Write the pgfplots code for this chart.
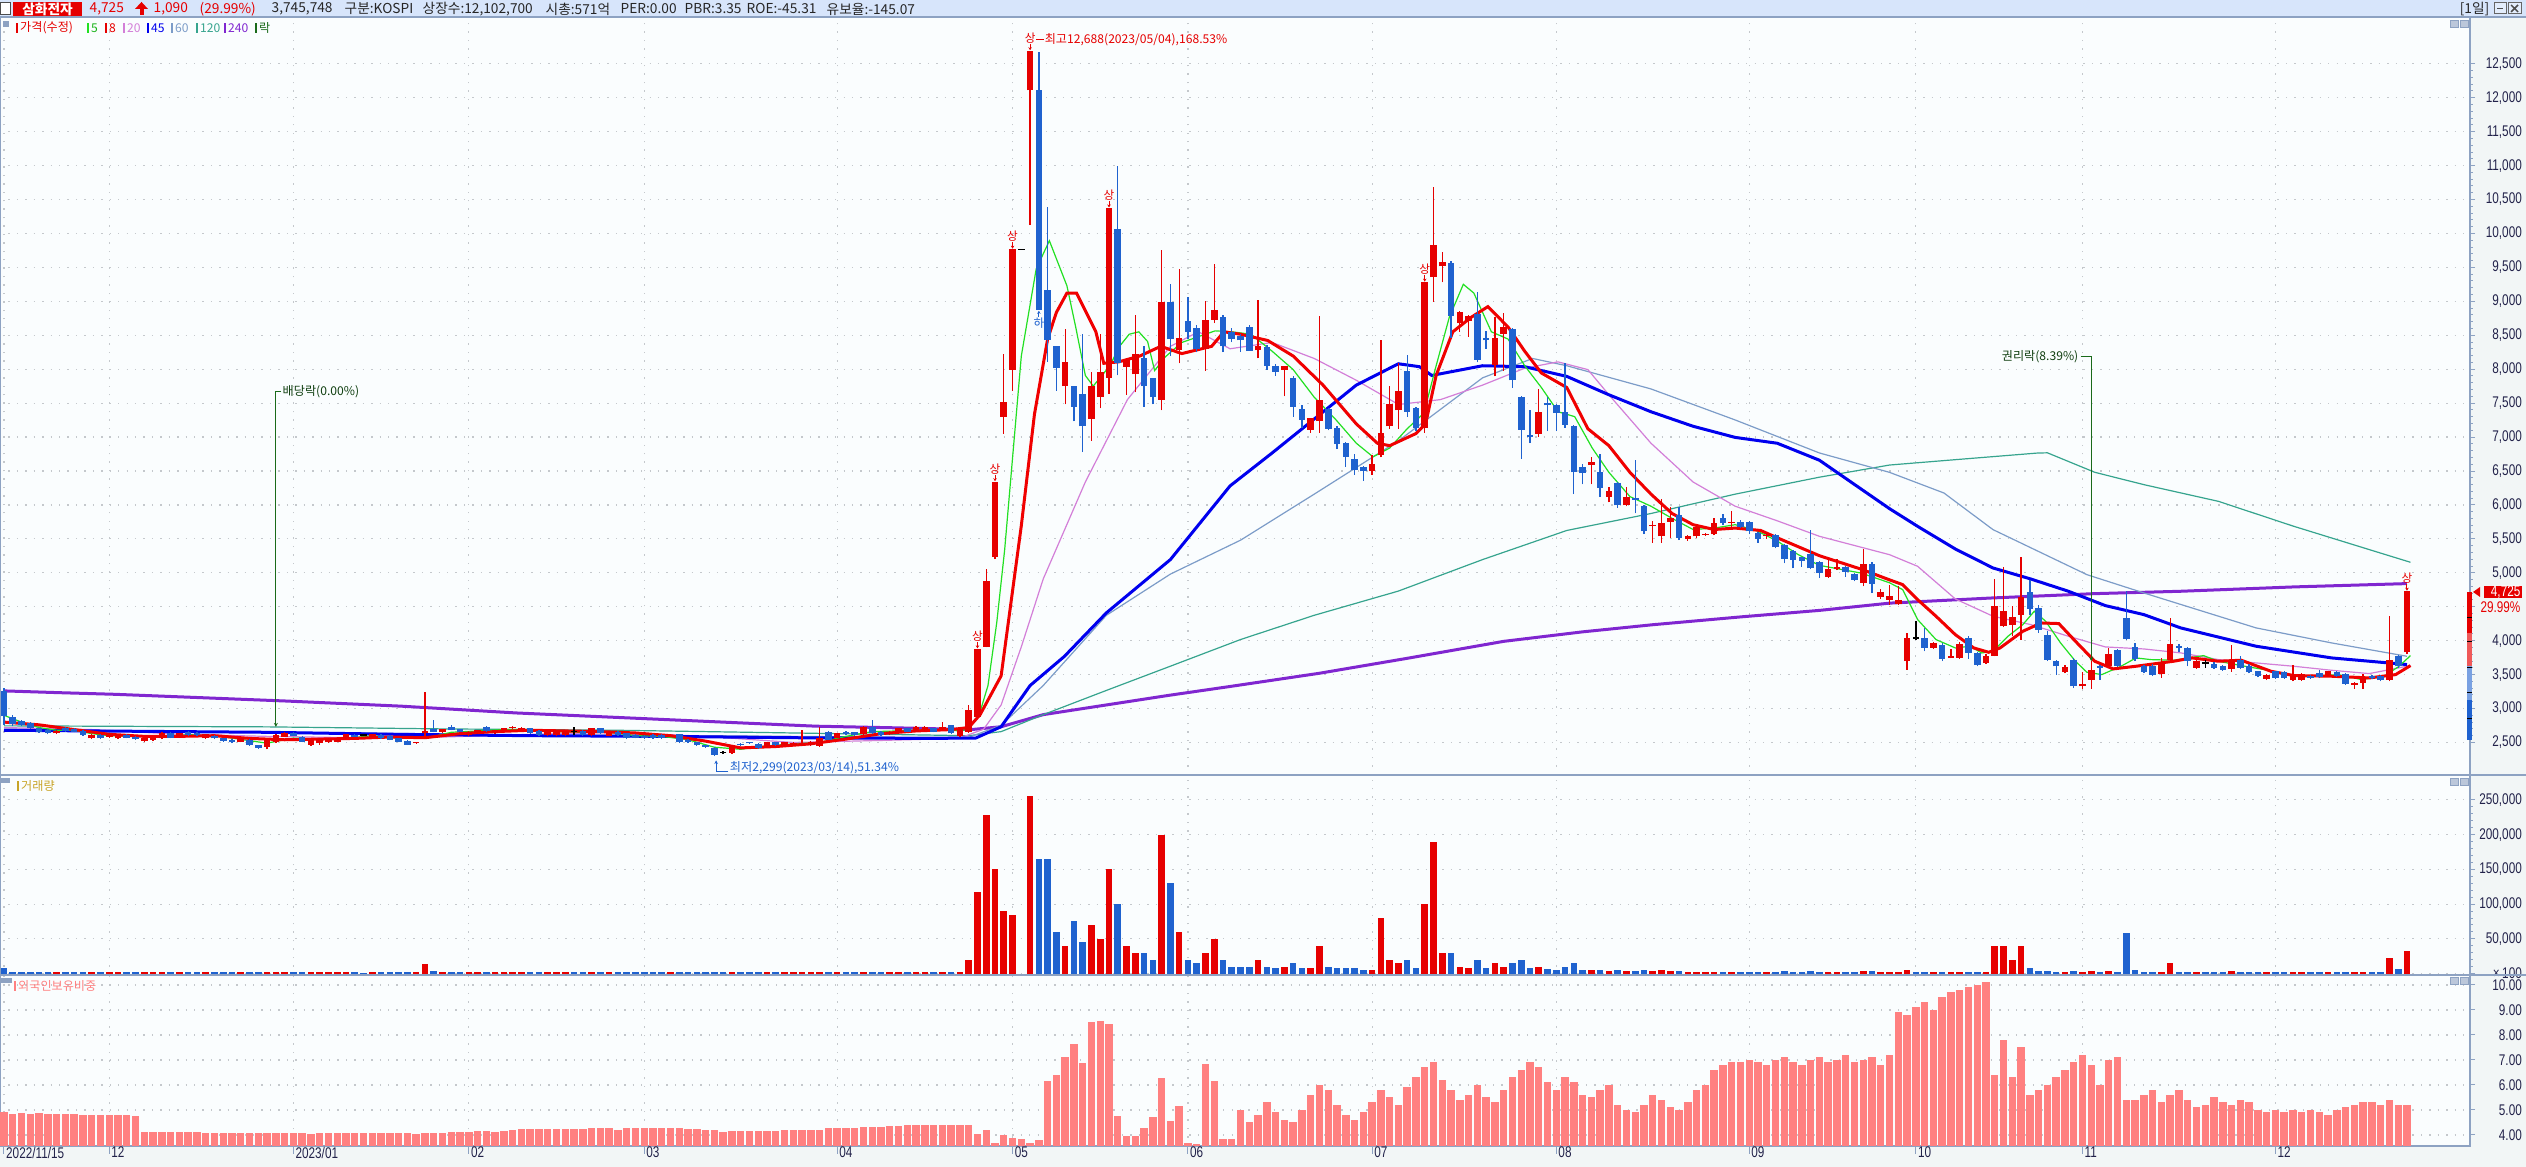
\documentclass[border=0pt]{standalone}
\usepackage{fontspec}
\usepackage{pgfplots}
\pgfplotsset{compat=1.18}
\usepackage{pgfplotstable}
\usetikzlibrary{arrows.meta}
\setmainfont{Liberation Sans}
\newfontfamily\kr{Noto Sans CJK KR}
\newfontfamily\axf[FakeStretch=0.76]{Liberation Sans}
\newcommand{\fs}[1]{\fontsize{#1}{#1}\selectfont}

\definecolor{hdrbg}{HTML}{D7E5FB}
\definecolor{border}{HTML}{8DA2C2}
\definecolor{plotbg}{HTML}{FAFDFE}
\definecolor{sidebg}{HTML}{F2F6F6}
\definecolor{candr}{HTML}{E60000}
\definecolor{candb}{HTML}{1F62CF}
\definecolor{mafive}{HTML}{22E022}
\definecolor{maeight}{HTML}{F00000}
\definecolor{matwenty}{HTML}{D37FD8}
\definecolor{mafortyfive}{HTML}{0000EE}
\definecolor{masixty}{HTML}{7C9CC8}
\definecolor{maonetwenty}{HTML}{36A48E}
\definecolor{matwoforty}{HTML}{8026D0}
\definecolor{frgn}{HTML}{FF8080}
\definecolor{axtxt}{HTML}{22224A}
\definecolor{gridc}{HTML}{C4C8CC}
\definecolor{dkgreen}{HTML}{1A6A1A}
\definecolor{gold}{HTML}{C8A428}

% ---------- candles: i open high low close volume ----------
\pgfplotstableread{
i o h l c v
6 2635 2690 2620 2670 2500
10 2560 2620 2550 2610 2500
12 2585 2640 2570 2635 2000
13 2560 2625 2550 2620 2000
16 2520 2570 2500 2560 2000
17 2535 2570 2520 2560 2000
18 2560 2650 2550 2645 3000
20 2585 2640 2570 2635 2000
23 2560 2630 2550 2620 2000
27 2510 2570 2500 2560 2000
30 2435 2540 2400 2535 3000
31 2500 2620 2490 2610 3000
32 2585 2650 2580 2645 2500
35 2470 2540 2450 2535 2000
36 2485 2560 2470 2550 2000
37 2500 2560 2490 2550 2000
38 2510 2570 2500 2560 2000
39 2560 2630 2550 2620 2000
42 2585 2625 2580 2620 2000
47 2485 2510 2480 2500 2000
48 2635 3250 2600 2670 14000
50 2650 2700 2640 2695 3000
53 2610 2670 2600 2660 2500
54 2635 2690 2630 2685 2500
56 2635 2690 2630 2685 2500
57 2685 2720 2680 2710 2500
58 2710 2740 2700 2735 2500
59 2695 2725 2690 2720 2500
62 2610 2690 2600 2685 2500
63 2610 2690 2600 2685 2500
64 2610 2675 2600 2670 2500
67 2610 2715 2600 2710 2500
69 2600 2665 2590 2660 2500
76 2585 2615 2580 2610 2000
83 2345 2460 2330 2447 2500
87 2450 2510 2440 2500 2000
89 2460 2510 2450 2500 2000
90 2470 2500 2460 2490 2000
91 2470 2680 2460 2490 3000
92 2460 2520 2450 2510 2000
93 2450 2735 2440 2560 3000
95 2570 2640 2560 2635 2000
98 2625 2740 2610 2732 2500
101 2625 2670 2610 2660 2000
102 2639 2720 2630 2710 2000
104 2660 2740 2650 2732 2000
105 2682 2740 2670 2732 2000
107 2696 2803 2690 2732 2500
109 2589 2710 2580 2697 3000
110 2660 3053 2640 2982 20000
111 2875 3875 2860 3875 118000
112 3910 5053 3900 4874 228000
113 5231 6338 5200 6338 150000
114 7302 8230 7052 7516 90000
115 7994 9765 7680 9765 84000
117 12107 12688 10122 12688 255000
121 7751 8587 7480 8108 40000
124 7266 7966 6945 7751 70000
125 7587 8515 7423 7966 50000
126 7873 10372 7640 10372 150000
128 8037 8137 7623 8137 40000
129 7923 8800 7658 8230 30000
132 7552 9750 7395 8994 200000
134 8280 9479 8087 8465 60000
137 8301 9000 7980 8730 30000
138 8730 9550 8680 8872 50000
143 8280 9015 8158 8337 20000
146 7994 8051 7600 8051 10000
149 7109 7280 7066 7280 8000
150 7230 8787 7066 7552 40000
156 6495 6730 6445 6609 5000
157 6730 8423 6700 7066 80000
158 7159 7751 7123 7494 20000
159 7394 8087 7123 7680 15000
162 7137 9279 7066 9279 100000
163 9358 10679 8994 9836 190000
164 9515 9729 9279 9586 30000
166 8680 8860 8551 8837 10000
167 8708 8800 8480 8780 8000
170 8065 8765 7894 8465 15000
171 8515 8822 7980 8622 10000
175 7052 7709 7000 7373 10000
181 6588 6700 6302 6637 5000
183 6123 6266 6037 6209 4000
185 5995 6266 5980 6123 4000
188 5690 5766 5445 5702 4000
189 5538 6087 5445 5730 5000
190 5752 5966 5516 5802 4000
192 5495 5550 5470 5538 3000
193 5538 5700 5516 5681 3000
194 5560 5580 5540 5570 2000
195 5566 5802 5552 5730 3000
197 5740 5909 5660 5750 3000
201 5540 5580 5500 5552 2000
208 4945 5210 4930 5052 3000
209 5052 5210 5040 5088 2000
212 4853 5352 4800 5124 4000
214 4650 4760 4620 4720 3000
215 4605 4826 4531 4654 3000
216 4546 4802 4531 4595 2000
217 3697 4114 3574 4040 5000
220 3893 3980 3880 3967 2000
222 3746 3878 3740 3780 2000
223 3746 3980 3730 3957 3000
226 3672 3800 3660 3780 3000
227 3780 4910 3770 4517 40000
228 4212 5086 4200 4433 40000
229 4237 4517 4065 4350 20000
230 4384 5233 4016 4644 40000
235 3535 3640 3520 3613 2000
237 3328 3535 3290 3368 3000
238 3427 3697 3290 3574 4000
240 3633 3893 3620 3810 4000
246 3515 3746 3451 3682 3000
247 3721 4335 3700 3957 15000
250 3599 3710 3590 3697 2000
254 3584 3943 3540 3712 4000
258 3437 3510 3420 3500 2000
261 3417 3648 3400 3486 3000
262 3427 3530 3410 3515 2000
265 3500 3560 3480 3549 2000
268 3353 3390 3290 3378 2000
269 3378 3510 3290 3451 3000
272 3427 4370 3400 3721 22000
274 3829 4725 3800 4725 33000
}\redtab

\pgfplotstableread{
i o h l c v
0 3260 3300 2760 2885 8000
1 2870 2900 2740 2770 3000
2 2810 2830 2740 2760 2500
3 2785 2800 2700 2720 2500
4 2710 2720 2640 2660 2500
5 2685 2700 2620 2635 2000
7 2720 2730 2660 2670 2000
8 2700 2710 2650 2660 2000
9 2670 2680 2600 2610 2000
11 2610 2620 2550 2560 2000
14 2610 2620 2560 2570 2000
15 2585 2600 2540 2550 2000
19 2635 2650 2560 2570 2000
21 2660 2670 2600 2610 2000
22 2635 2650 2600 2610 2000
24 2600 2610 2550 2560 2000
25 2560 2570 2510 2520 2000
26 2535 2550 2490 2500 2000
28 2535 2550 2450 2460 2000
29 2460 2470 2410 2420 2000
33 2635 2650 2590 2600 2000
34 2585 2590 2500 2510 2000
40 2610 2620 2580 2585 2000
43 2610 2620 2550 2560 2000
44 2600 2610 2530 2535 2000
45 2560 2570 2500 2510 2000
46 2520 2530 2460 2470 2000
49 2700 2835 2650 2660 4000
51 2735 2760 2680 2685 3000
52 2695 2700 2650 2660 2500
55 2735 2740 2660 2670 2500
60 2710 2720 2630 2635 2500
61 2670 2680 2600 2610 2500
66 2670 2680 2600 2610 2500
68 2710 2720 2630 2635 2500
70 2660 2670 2600 2610 2000
71 2635 2645 2550 2560 2000
72 2610 2620 2560 2570 2000
73 2600 2610 2550 2560 2000
74 2610 2620 2550 2560 2000
75 2610 2620 2550 2560 2000
77 2620 2630 2490 2500 2500
78 2535 2545 2490 2500 2000
79 2500 2510 2450 2460 2000
80 2460 2470 2425 2435 2000
81 2420 2430 2299 2320 3000
84 2480 2490 2450 2460 2000
85 2500 2510 2480 2485 2000
86 2480 2490 2410 2420 2000
88 2500 2510 2450 2460 2000
94 2660 2670 2530 2535 2500
96 2660 2670 2610 2620 2000
97 2650 2660 2600 2610 2000
99 2732 2835 2630 2639 3000
100 2660 2670 2600 2610 2000
103 2710 2720 2650 2660 2000
106 2710 2720 2650 2660 2000
108 2753 2760 2630 2639 2500
118 12107 12678 8872 8872 165000
119 9172 10386 8108 8430 165000
120 8337 8337 7680 8015 60000
122 7751 7751 7230 7444 75000
123 7637 8515 6780 7159 45000
127 10072 10993 7908 8087 100000
130 8158 8337 7444 7751 30000
131 7873 7873 7480 7587 20000
133 8994 9251 8194 8444 130000
135 8708 9065 8444 8551 20000
136 8608 8650 8250 8301 15000
139 8765 8800 8250 8337 20000
140 8551 8600 8400 8444 10000
141 8494 8520 8250 8423 10000
142 8622 8650 8300 8265 10000
144 8322 8350 7990 8051 10000
145 8051 8080 7900 7966 8000
147 7873 7900 7300 7444 15000
148 7409 7466 7140 7252 8000
151 7409 7430 7100 7123 10000
152 7137 7160 6823 6895 8000
153 6909 6930 6566 6709 8000
154 6680 6750 6445 6516 8000
155 6566 6580 6359 6495 5000
160 7980 8208 7302 7373 20000
161 7423 7450 7087 7137 8000
165 9565 9600 8465 8780 30000
168 8815 9136 8100 8137 20000
169 8458 8565 8300 8423 8000
172 8587 8600 7730 7837 15000
173 7587 7600 6680 7109 20000
174 7037 7394 6909 6995 8000
176 7501 7587 7087 7466 6000
177 7466 7480 7087 7352 5000
178 7373 8087 7140 7180 10000
179 7159 7180 6159 6480 15000
180 6566 6600 6302 6466 5000
182 6480 6752 6123 6252 5000
184 6323 6340 5960 5995 5000
186 6100 6659 5874 6075 4000
187 5981 6000 5570 5609 5000
191 5852 5966 5480 5516 4000
196 5802 5873 5700 5730 2000
198 5752 5780 5660 5681 2000
199 5752 5770 5566 5609 3000
200 5588 5600 5445 5495 3000
202 5552 5570 5360 5374 3000
203 5409 5420 5138 5209 4000
204 5324 5340 5066 5195 3000
205 5230 5240 5088 5181 2000
206 5280 5637 5052 5067 4000
207 5160 5180 4923 4995 3000
210 5088 5100 4945 5017 2000
211 4981 5000 4873 4896 2000
213 5124 5160 4702 4838 4000
219 4040 4188 3844 3893 3000
221 3942 3960 3700 3731 2000
224 4040 4065 3731 3819 3000
225 3819 3830 3620 3648 2000
231 4713 4900 4384 4467 8000
232 4482 4531 4114 4163 4000
233 4089 4139 3700 3721 4000
234 3697 3710 3500 3623 2000
236 3721 3740 3300 3328 4000
239 3623 3640 3427 3599 2000
241 3859 3870 3610 3633 3000
242 4335 4728 4010 4025 58000
243 3908 3967 3700 3731 5000
244 3623 3640 3520 3535 2000
245 3633 3650 3476 3500 2000
248 3928 3957 3840 3893 2000
249 3893 3900 3623 3697 3000
252 3662 3680 3590 3599 2000
253 3623 3640 3560 3574 2000
255 3721 3780 3580 3599 3000
256 3633 3650 3520 3535 2000
257 3549 3560 3460 3476 2000
259 3549 3560 3440 3451 2000
260 3535 3550 3440 3451 2000
263 3476 3490 3440 3451 2000
264 3525 3570 3450 3466 2000
266 3535 3550 3470 3486 2000
267 3515 3530 3350 3368 3000
270 3486 3500 3440 3451 2000
271 3476 3500 3400 3417 2000
273 3780 3790 3600 3623 6000
}\bluetab

\pgfplotstableread{
i o h l c v
41 2610 2625 2595 2610 1500
65 2660 2735 2610 2660 2500
82 2350 2380 2330 2350 2000
116 9765 9765 9765 9765 0
218 4040 4286 4016 4040 3000
251 3672 3721 3599 3672 2000
}\dojitab

% ---------- foreign ownership (%) ----------
\pgfplotstableread{
i f
0 4.93
1 4.85
2 4.89
3 4.85
4 4.89
5 4.85
6 4.85
7 4.85
8 4.85
9 4.81
10 4.81
11 4.81
12 4.81
13 4.81
14 4.81
15 4.76
16 4.12
17 4.12
18 4.12
19 4.12
20 4.12
21 4.12
22 4.12
23 4.08
24 4.08
25 4.08
26 4.08
27 4.08
28 4.08
29 4.08
30 4.08
31 4.08
32 4.08
33 4.08
34 4.08
35 4.03
36 4.08
37 4.08
38 4.08
39 4.08
40 4.08
41 4.08
42 4.08
43 4.08
44 4.08
45 4.08
46 4.08
47 4.04
48 4.08
49 4.08
50 4.08
51 4.13
52 4.13
53 4.13
54 4.16
55 4.16
56 4.13
57 4.16
58 4.20
59 4.24
60 4.24
61 4.24
62 4.24
63 4.24
64 4.24
65 4.24
66 4.24
67 4.28
68 4.28
69 4.28
70 4.20
71 4.28
72 4.28
73 4.28
74 4.28
75 4.28
76 4.28
77 4.28
78 4.24
79 4.24
80 4.20
81 4.20
82 4.13
83 4.16
84 4.16
85 4.16
86 4.16
87 4.16
88 4.16
89 4.20
90 4.20
91 4.20
92 4.20
93 4.20
94 4.27
95 4.27
96 4.27
97 4.27
98 4.31
99 4.31
100 4.31
101 4.37
102 4.37
103 4.40
104 4.40
105 4.38
106 4.40
107 4.40
108 4.38
109 4.40
110 4.38
111 4.05
112 4.20
113 3.67
114 4.00
115 3.87
116 3.84
117 3.67
118 3.80
119 6.16
120 6.40
121 7.13
122 7.64
123 6.87
124 8.51
125 8.56
126 8.44
127 4.76
128 3.96
129 3.96
130 4.27
131 4.71
132 6.27
133 4.56
134 5.16
135 3.67
136 3.63
137 6.83
138 6.16
139 3.84
140 3.84
141 5.00
142 4.50
143 4.80
144 5.30
145 4.90
146 4.60
147 4.50
148 5.00
149 5.60
150 6.00
151 5.80
152 5.20
153 4.80
154 4.60
155 4.90
156 5.30
157 5.80
158 5.50
159 5.20
160 5.90
161 6.30
162 6.70
163 6.90
164 6.20
165 5.80
166 5.40
167 5.60
168 6.00
169 5.50
170 5.30
171 5.80
172 6.30
173 6.60
174 6.90
175 6.70
176 6.10
177 5.80
178 6.30
179 6.10
180 5.60
181 5.50
182 5.80
183 6.00
184 5.20
185 5.00
186 4.90
187 5.20
188 5.60
189 5.40
190 5.10
191 5.00
192 5.30
193 5.80
194 6.00
195 6.60
196 6.80
197 6.90
198 6.90
199 7.00
200 6.90
201 6.80
202 7.00
203 7.10
204 6.90
205 6.80
206 7.00
207 7.10
208 6.90
209 7.00
210 7.20
211 6.90
212 7.00
213 7.10
214 6.80
215 7.20
216 8.90
217 8.80
218 9.10
219 9.30
220 9.00
221 9.50
222 9.70
223 9.80
224 9.90
225 10.00
226 10.10
227 6.40
228 7.80
229 6.30
230 7.50
231 5.60
232 5.80
233 6.00
234 6.30
235 6.60
236 6.90
237 7.20
238 6.80
239 6.00
240 7.00
241 7.10
242 5.40
243 5.40
244 5.60
245 5.80
246 5.30
247 5.60
248 5.80
249 5.40
250 5.10
251 5.20
252 5.50
253 5.30
254 5.20
255 5.40
256 5.30
257 5.00
258 4.90
259 5.00
260 4.90
261 5.00
262 4.90
263 5.00
264 4.90
265 4.80
266 5.00
267 5.10
268 5.20
269 5.30
270 5.30
271 5.20
272 5.40
273 5.20
274 5.20
}\frtab

\newcommand{\sang}[2]{%
  \draw[candr, line width=0.1mm, -{Stealth[length=0.3mm,width=0.35mm]}]
    ([yshift=0.72mm]axis cs:#1,#2) -- ([yshift=0.08mm]axis cs:#1,#2);
  \node[anchor=south, inner sep=0pt, font=\kr\fs{3.3pt}, text=candr] at ([yshift=0.72mm]axis cs:#1,#2) {상};}

\pgfplotsset{
  candlewick/.style={draw=none, mark=none, forget plot, error bars/.cd, y dir=plus, y explicit, error mark=none, error bar style={draw=#1, line width=0.13mm}},
  candlebody/.style={draw=none, mark=none, forget plot, error bars/.cd, y dir=plus, y explicit, error mark=none, error bar style={draw=#1, line width=0.66mm}},
}

\begin{document}
\begin{tikzpicture}
\begin{scope}[x=0.1mm,y=0.1mm]
\fill[sidebg] (0,0) rectangle (2526,1167);
\fill[plotbg] (0,21) rectangle (2470,1150);
\end{scope}

% ================= PRICE =================
\begin{axis}[
  at={(0mm,39.2mm)}, anchor=south west, scale only axis,
  width=247mm, height=75.8mm,
  xmin=-0.456, xmax=281.19, ymin=2021, ymax=13190,
  clip mode=individual,
  scaled y ticks=false, scaled x ticks=false,
  axis line style={draw=border, line width=0.18mm},
  xtick={0,12,33,53,73,95,115,135,156,177,199,218,237,259},
  xticklabels={}, xtick style={draw=none},
  ytick={2500,3000,...,12500},
  minor y tick num=4,
  ytick pos=right, yticklabel pos=right,
  tick align=outside,
  major tick length=0.5mm, minor tick length=0.28mm,
  ytick style={draw=border, line width=0.1mm},
  yticklabels={{2,500},{3,000},{3,500},{4,000},{},{5,000},{5,500},{6,000},{6,500},{7,000},{7,500},{8,000},{8,500},{9,000},{9,500},{10,000},{10,500},{11,000},{11,500},{12,000},{12,500}},
  yticklabel style={font=\axf\fs{4.4pt}, text=axtxt, anchor=east, xshift=4.75mm, inner sep=0pt},
  xmajorgrids, ymajorgrids,
  major grid style={draw=gridc, dotted, line width=0.12mm},
]
% moving averages
\addplot[matwoforty, line width=0.3mm] coordinates {(0,3260)(6,3235)(12.6,3210)(22.5,3160)(32.3,3110)(45.3,3035)(58.4,2935)(71.5,2860)(84.6,2785)(92.6,2740)(102,2715)(110.3,2690)(113.7,2732)(118.5,2910)(125.7,3053)(132.9,3196)(139.8,3325)(150,3520)(160,3740)(171,3990)(180,4130)(188,4235)(198,4350)(207,4446)(215,4553)(226.8,4630)(238.4,4693)(248.2,4728)(261.1,4792)(274,4841)};
\addplot[maonetwenty, line width=0.12mm] coordinates {(0,2745)(30,2730)(50,2700)(70,2680)(90,2640)(110,2600)(113.7,2660)(118.5,2910)(125.7,3267)(133,3624)(141,4017)(149.4,4374)(159,4731)(168.6,5195)(178.2,5624)(187.8,5874)(197.4,6159)(207,6409)(215,6588)(222.5,6667)(231.9,6765)(233,6768)(238.4,6481)(244,6299)(252.5,6053)(261.1,5685)(269.7,5342)(274.4,5155)};
\addplot[masixty, line width=0.12mm] coordinates {(0,2700)(20,2660)(40,2640)(60,2610)(80,2600)(100,2580)(110,2575)(113.7,2753)(118.5,3339)(125.7,4374)(133,4981)(141,5481)(149.4,6159)(159,6945)(168.6,7873)(174.3,8158)(178.2,8051)(187.8,7709)(197.4,7252)(207,6766)(215,6480)(221.2,6176)(226.8,5636)(237.5,4973)(244,4703)(256.8,4188)(265.4,3967)(274,3770)};
\addplot[matwenty, line width=0.12mm] coordinates {(0,2720)(10,2690)(20,2620)(30,2590)(40,2570)(50,2580)(60,2620)(70,2650)(80,2590)(90,2500)(100,2530)(108.9,2560)(111.7,2696)(113.7,3053)(116,3910)(118.5,4910)(123.3,6338)(128.1,7552)(133,8337)(136.2,8551)(139.8,8301)(144.6,8394)(149.4,8158)(154.2,7837)(159,7480)(163.8,7552)(168.6,7766)(173.4,8015)(177.2,8108)(180.6,7994)(183,7623)(187.8,6909)(192.6,6338)(197.4,5981)(202.2,5766)(207,5538)(215,5267)(218.2,5096)(222.5,4615)(226.8,4360)(231.1,4237)(235.4,4065)(239.6,3908)(244,3878)(248.2,3820)(252.5,3721)(256.8,3672)(261.1,3623)(265.4,3564)(269.7,3515)(274.4,3633)};
\addplot[mafortyfive, line width=0.3mm] coordinates {(0,2680)(15,2665)(30,2650)(45,2620)(60,2600)(75,2590)(90,2570)(105,2560)(110.8,2565)(113.7,2732)(117,3339)(120.9,3767)(125.7,4410)(133,5195)(139.8,6280)(144.6,6766)(149.4,7266)(154.2,7766)(159,8080)(161.4,8037)(162.8,7908)(168.6,8051)(173.4,8037)(178.2,7894)(183,7623)(187.8,7373)(192.6,7159)(197.4,6995)(202.2,6909)(207,6659)(215,5945)(218.2,5685)(222.5,5351)(226.8,5071)(231.1,4909)(235.4,4728)(239.6,4517)(244,4384)(248.2,4188)(256.8,3918)(265.4,3746)(274,3648)};
\addplot[mafive, line width=0.12mm] coordinates {(0,2900)(2,2800)(4,2720)(6,2680)(8,2680)(10,2630)(12,2600)(15,2590)(18,2590)(21,2615)(24,2600)(27,2545)(30,2490)(33,2565)(36,2545)(39,2560)(42,2600)(45,2565)(48,2560)(51,2650)(54,2670)(57,2690)(60,2690)(63,2660)(66,2650)(69,2650)(72,2600)(75,2590)(78,2540)(81,2430)(84,2400)(87,2450)(90,2480)(93,2500)(96,2590)(99,2660)(102,2670)(105,2690)(108,2680)(109,2670)(110,2700)(111.2,2910)(112.2,3339)(113.2,4267)(114.1,5338)(116,8194)(117.7,9479)(119.2,9893)(121.2,9229)(122.2,8622)(123.3,7908)(124.2,7751)(125.2,7908)(126.1,8051)(127.2,8337)(128.3,8515)(129.4,8551)(130.4,8408)(131.2,7980)(132.4,8180)(134.3,8394)(136.2,8480)(138.1,8565)(140,8551)(142.2,8515)(144.6,8265)(147,7994)(149.4,7587)(151.8,7266)(154.2,6909)(156.1,6709)(158,6838)(160,7123)(161.9,7352)(163.3,8051)(164.8,8765)(166.4,9251)(167.6,9122)(169.6,8551)(171.5,8444)(173.4,8051)(175.3,7730)(177.2,7373)(179.1,7301)(181.1,6838)(183,6480)(185.4,6123)(187.8,5981)(190.2,5802)(192.6,5638)(195,5659)(197.4,5709)(199.8,5624)(202.2,5467)(204.6,5267)(207,5110)(209.4,5052)(211.8,4995)(215,4853)(216.5,4752)(218.2,4311)(220.3,4016)(222.5,3893)(224.2,3918)(225.5,3819)(226.8,3844)(228.5,4065)(230.2,4237)(231.5,4433)(232.8,4286)(234.5,3967)(236.2,3697)(237.5,3535)(239.2,3500)(241.4,3623)(243.1,3746)(244.8,3721)(247.4,3712)(249.1,3746)(250.8,3780)(252.5,3697)(255.1,3633)(257.7,3574)(260.2,3500)(263.2,3476)(266.2,3500)(268.8,3427)(271.4,3476)(273.1,3623)(274.4,3780)};
\addplot[maeight, line width=0.3mm] coordinates {(0,2800)(4,2760)(8,2690)(12,2620)(16,2590)(20,2590)(24,2600)(28,2560)(32,2540)(36,2550)(40,2560)(44,2580)(48,2570)(52,2630)(56,2660)(60,2680)(64,2670)(68,2660)(72,2640)(76,2600)(80,2520)(84,2420)(88,2440)(92,2480)(96,2550)(100,2630)(104,2670)(108,2690)(110,2720)(111.3,2910)(113.7,3482)(116,5695)(117.5,7337)(119,8444)(120,8837)(121.2,9122)(122.3,9122)(124.5,8551)(125.4,8087)(127.1,8108)(129.5,8194)(131.9,8337)(134.3,8230)(137.7,8337)(139.1,8551)(141,8515)(144.1,8423)(147,8194)(150.4,7766)(154.2,7194)(156.6,6909)(158,6873)(161,7052)(162.1,7194)(163.3,7908)(165.2,8551)(167.3,8765)(169.2,8922)(171.5,8622)(173.4,8265)(175.3,7944)(178.2,7730)(180.6,7123)(183,6873)(185.4,6480)(187.8,6159)(190.2,5874)(192.6,5709)(195,5638)(197.4,5659)(200.3,5624)(202.2,5516)(207,5252)(211.8,5052)(215,4896)(216.5,4826)(218.2,4605)(220.3,4360)(222.5,4089)(224.6,3893)(226.3,3829)(227.6,3893)(230.2,4139)(232.3,4261)(234.3,4252)(236.2,3991)(238.4,3697)(240.5,3584)(243.1,3623)(247.4,3697)(249.5,3746)(252.5,3697)(255.1,3712)(258.5,3549)(261.1,3486)(265.4,3476)(269.7,3451)(272.7,3500)(274.4,3633)};
% candles: wicks
\addplot[candlewick=candr] table[x=i, y=l, y error plus expr=\thisrow{h}-\thisrow{l}] {\redtab};
\addplot[candlewick=candb] table[x=i, y=l, y error plus expr=\thisrow{h}-\thisrow{l}] {\bluetab};
\addplot[candlewick=black] table[x=i, y=l, y error plus expr=\thisrow{h}-\thisrow{l}] {\dojitab};
% candles: bodies
\addplot[candlebody=candr] table[x=i, y=o, y error plus expr=\thisrow{c}-\thisrow{o}] {\redtab};
\addplot[candlebody=candb] table[x=i, y=c, y error plus expr=\thisrow{o}-\thisrow{c}] {\bluetab};
\addplot[only marks, mark=-, mark size=0.33mm, mark options={draw=black, line width=0.15mm}] table[x=i, y=c] {\dojitab};
% limit-up / limit-down markers
\sang{111}{3875}
\sang{113}{6338}
\sang{115}{9765}
\sang{117}{12688}
\sang{126}{10372}
\sang{162}{9279}
\sang{274}{4725}
\draw[candb, line width=0.1mm, -{Stealth[length=0.3mm,width=0.35mm]}]
  ([yshift=-0.72mm]axis cs:118,8872) -- ([yshift=-0.08mm]axis cs:118,8872);
\node[anchor=north, inner sep=0pt, font=\kr\fs{3.3pt}, text=candb] at ([yshift=-0.72mm]axis cs:118,8872) {하};
% high / low annotations
\draw[candr, line width=0.1mm] (axis cs:117.7,12853) -- (axis cs:118.55,12853);
\node[anchor=west, inner sep=0pt, font=\kr\fs{3.45pt}, text=candr] at (axis cs:118.6,12853) {최고12,688(2023/05/04),168.53\%};
\draw[candb, line width=0.1mm, -{Stealth[length=0.35mm,width=0.35mm]}] (axis cs:82.6,2071) -- (axis cs:81.2,2071) -- (axis cs:81.2,2235);
\node[anchor=west, inner sep=0pt, font=\kr\fs{3.45pt}, text=candb] at (axis cs:82.7,2125) {최저2,299(2023/03/14),51.34\%};
% ex-dividend / ex-rights
\draw[dkgreen, line width=0.1mm, -{Stealth[length=0.4mm,width=0.4mm]}] (axis cs:31.6,7669) -- (axis cs:31,7669) -- (axis cs:31,2730);
\node[anchor=west, inner sep=0pt, font=\kr\fs{3.45pt}, text=dkgreen!60!black] at (axis cs:31.7,7669) {배당락(0.00\%)};
\draw[dkgreen, line width=0.1mm, -{Stealth[length=0.4mm,width=0.4mm]}] (axis cs:236.8,8184) -- (axis cs:238,8184) -- (axis cs:238,3700);
\node[anchor=east, inner sep=0pt, font=\kr\fs{3.45pt}, text=dkgreen!60!black] at (axis cs:236.6,8184) {권리락(8.39\%)};
\end{axis}

% ================= VOLUME =================
\begin{axis}[
  at={(0mm,19.2mm)}, anchor=south west, scale only axis,
  width=247mm, height=20mm,
  xmin=-0.456, xmax=281.19, ymin=-2000, ymax=285770,
  scaled y ticks=false, scaled x ticks=false,
  axis line style={draw=border, line width=0.18mm},
  xtick={0,12,33,53,73,95,115,135,156,177,199,218,237,259},
  xticklabels={}, xtick style={draw=none},
  ytick={0,50000,100000,150000,200000,250000},
  minor y tick num=4,
  ytick pos=right, yticklabel pos=right,
  tick align=outside,
  major tick length=0.5mm, minor tick length=0.28mm,
  ytick style={draw=border, line width=0.1mm},
  yticklabels={{×\,100},{50,000},{100,000},{150,000},{200,000},{250,000}},
  yticklabel style={font=\axf\fs{4.4pt}, text=axtxt, anchor=east, xshift=4.75mm, inner sep=0pt},
  xmajorgrids, ymajorgrids,
  major grid style={draw=gridc, dotted, line width=0.12mm},
]
\addplot[ycomb, draw=candr, line width=0.66mm, mark=none] table[x=i, y=v] {\redtab};
\addplot[ycomb, draw=candb, line width=0.66mm, mark=none] table[x=i, y=v] {\bluetab};
\addplot[ycomb, draw=candb, line width=0.66mm, mark=none] table[x=i, y=v] {\dojitab};
\end{axis}

% ================= FOREIGN OWNERSHIP =================
\begin{axis}[
  at={(0mm,2.1mm)}, anchor=south west, scale only axis,
  width=247mm, height=17.1mm,
  xmin=-0.456, xmax=281.19, ymin=3.56, ymax=10.4,
  scaled y ticks=false, scaled x ticks=false,
  axis line style={draw=border, line width=0.18mm},
  xtick={0,12,33,53,73,95,115,135,156,177,199,218,237,259},
  xticklabels={2022/11/15,12,2023/01,02,03,04,05,06,07,08,09,10,11,12},
  xtick pos=bottom,
  xtick style={draw=border, line width=0.1mm, /pgfplots/major tick length=0.8mm},
  xticklabel style={font=\axf\fs{4.4pt}, text=axtxt, anchor=north west, xshift=0.15mm, yshift=0.45mm, inner sep=0pt},
  ytick={4,5,6,7,8,9,10},
  ytick pos=right, yticklabel pos=right,
  tick align=outside,
  major tick length=0.5mm,
  ytick style={draw=border, line width=0.1mm},
  yticklabels={4.00,5.00,6.00,7.00,8.00,9.00,10.00},
  yticklabel style={font=\axf\fs{4.4pt}, text=axtxt, anchor=east, xshift=4.75mm, inner sep=0pt},
  xmajorgrids, ymajorgrids,
  major grid style={draw=gridc, dotted, line width=0.12mm},
]
\addplot[ycomb, draw=frgn, line width=0.74mm, mark=none] table[x=i, y=f] {\frtab};
\end{axis}

% ================= FRAME, HEADER, LABELS =================
\begin{scope}[x=0.1mm,y=0.1mm]
\draw[border, line width=0.18mm] (2470,392) -- (2526,392);
\draw[border, line width=0.18mm] (2470,192) -- (2526,192);
% header
\fill[hdrbg] (0,1150) rectangle (2526,1167);
\draw[border, line width=0.2mm] (0,1150) -- (2526,1150);
\draw[fill=white, draw=black!70, line width=0.1mm] (1,1152) rectangle (10,1164);
\fill[candr] (13,1151) rectangle (82,1165);
\node[font=\kr\bfseries\fs{3.9pt}, text=white, inner sep=0pt] at (47.5,1158) {삼화전자};
\begin{scope}[every node/.style={anchor=west, inner sep=0pt, font=\kr\fs{3.9pt}}]
\node[text=candr] at (89,1158) {4,725};
\fill[candr] (135,1158) -- (141.5,1165) -- (148,1158) -- cycle;
\fill[candr] (139.5,1152) rectangle (143.5,1158);
\node[text=candr] at (153,1158) {1,090};
\node[text=candr] at (199,1158) {(29.99\%)};
\node[text=black!85] at (271,1158) {3,745,748};
\node[text=black!85] at (344,1158) {구분:KOSPI};
\node[text=black!85] at (422,1158) {상장수:12,102,700};
\node[text=black!85] at (545,1158) {시총:571억};
\node[text=black!85] at (620,1158) {PER:0.00};
\node[text=black!85] at (684,1158) {PBR:3.35};
\node[text=black!85] at (746,1158) {ROE:-45.31};
\node[text=black!85] at (826,1158) {유보율:-145.07};
\node[text=black!85] at (2459,1158) {[1일]};
\end{scope}
\draw[fill=hdrbg!70!white, draw=black!60, line width=0.1mm] (2494,1153) rectangle (2506,1164);
\draw[fill=hdrbg!70!white, draw=black!60, line width=0.1mm] (2508,1153) rectangle (2521,1164);
\draw[black!70, line width=0.15mm] (2497,1158.5) -- (2503,1158.5);
\draw[black!70, line width=0.15mm] (2511,1155) -- (2518,1162) (2511,1162) -- (2518,1155);
% legend
\fill[border] (3,1140) rectangle (9,1146);
\begin{scope}[every node/.style={anchor=west, inner sep=0pt, font=\kr\fs{3.45pt}}]
\fill[candr] (16,1134) rectangle (18,1144); \node[text=candr] at (19.5,1139) {가격(수정)};
\fill[mafive] (87,1134) rectangle (89,1144); \node[text=mafive!80!black] at (90.5,1139) {5};
\fill[candr] (105,1134) rectangle (107,1144); \node[text=candr] at (108.5,1139) {8};
\fill[matwenty] (123,1134) rectangle (125,1144); \node[text=matwenty] at (126.5,1139) {20};
\fill[mafortyfive] (147,1134) rectangle (149,1144); \node[text=mafortyfive] at (150.5,1139) {45};
\fill[masixty] (171,1134) rectangle (173,1144); \node[text=masixty] at (174.5,1139) {60};
\fill[maonetwenty] (196,1134) rectangle (198,1144); \node[text=maonetwenty] at (199.5,1139) {120};
\fill[matwoforty] (224,1134) rectangle (226,1144); \node[text=matwoforty] at (227.5,1139) {240};
\fill[dkgreen] (255,1134) rectangle (257,1144); \node[text=dkgreen] at (258.5,1139) {락};
% volume label
\fill[border] (1,384) rectangle (10,389);
\fill[gold] (17,376) rectangle (19,386); \node[text=gold] at (20.5,381) {거래량};
% foreign label
\fill[border] (0,184) rectangle (12,189);
\fill[frgn] (14,176) rectangle (16,186); \node[text=frgn] at (17.5,181) {외국인보유비중};
\end{scope}
% panel buttons
\foreach \yy in {1140,382,183}{
  \draw[fill=border!60!white, draw=border, line width=0.08mm] (2450,\yy) rectangle (2458,\yy+7);
  \draw[fill=border!60!white, draw=border, line width=0.08mm] (2460,\yy) rectangle (2468,\yy+7);
}
% current price marker on right axis
\fill[candr] (2467,534) rectangle (2472,575);
\fill[candr!65!white] (2467,501) rectangle (2472,534);
\fill[candb!60!white] (2467,467) rectangle (2472,501);
\fill[candb] (2467,427) rectangle (2472,467);
\foreach \yy in {549,525,499,474,448}{\draw[black, line width=0.1mm] (2467,\yy) -- (2472,\yy);}
\fill[candr] (2473,575) -- (2480,580) -- (2480,570) -- cycle;
\fill[candr] (2484,569) rectangle (2522,581);
\node[anchor=east, inner sep=0pt, font=\axf\fs{4.4pt}, text=white] at (2521,575) {4,725};
\node[anchor=east, inner sep=0pt, font=\axf\fs{4.4pt}, text=candr] at (2521,560) {29.99\%};
\end{scope}
\pgfresetboundingbox
\path[use as bounding box] (0,0) rectangle (252.6mm,116.7mm);
\end{tikzpicture}
\end{document}
